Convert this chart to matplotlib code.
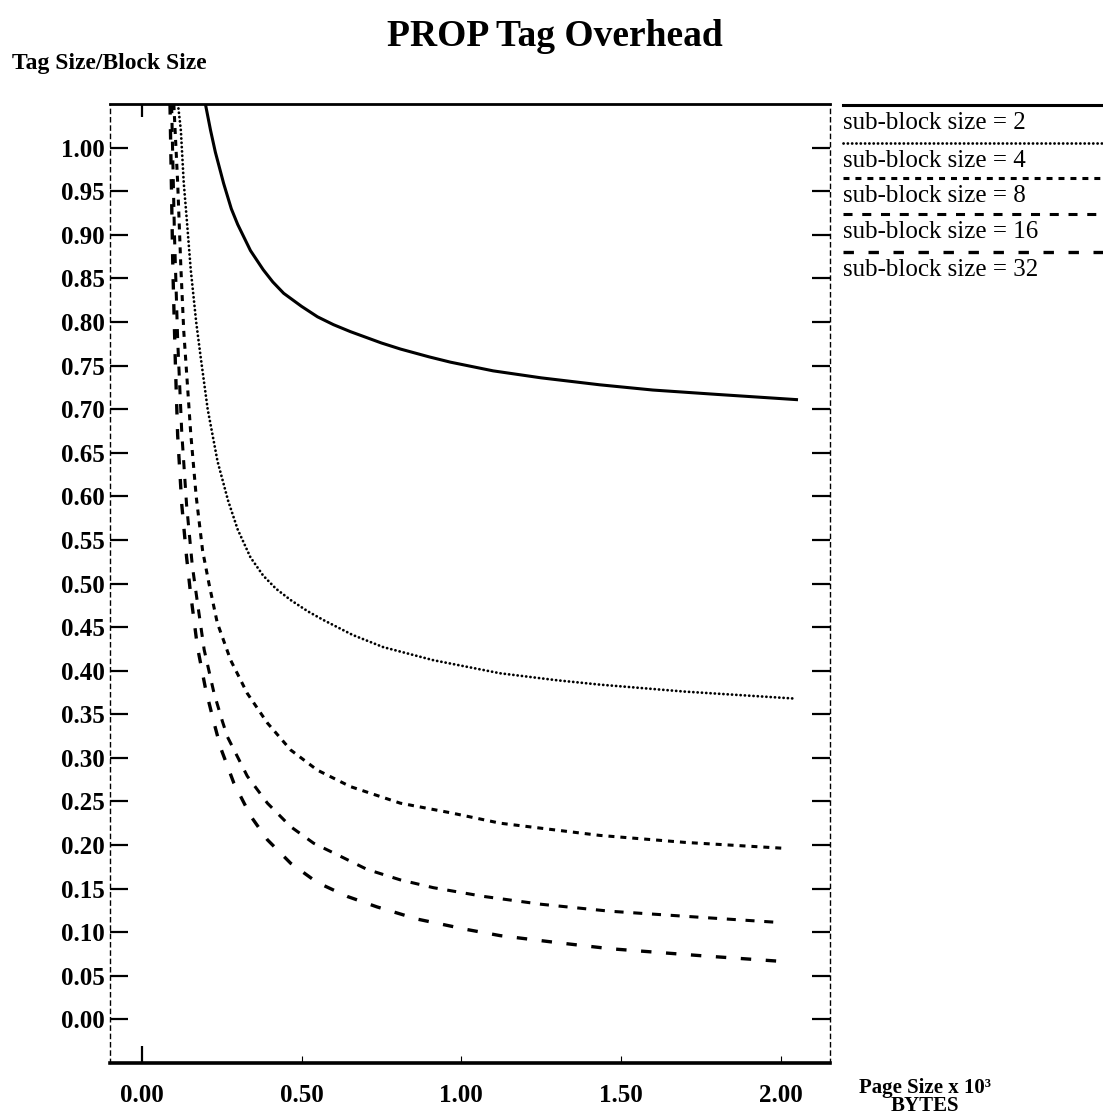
import numpy as np
import matplotlib
matplotlib.use("Agg")
import matplotlib.pyplot as plt

plt.rcParams['font.family'] = ['Liberation Serif', 'DejaVu Serif']
plt.rcParams['lines.scale_dashes'] = False

# page size (x 10^3 bytes) and tag size / block size
x_2 = [0.20, 0.215, 0.23, 0.256, 0.28, 0.30, 0.34, 0.38, 0.41, 0.444, 0.50, 0.55,
       0.60, 0.653, 0.75, 0.81, 0.90, 0.966, 1.10, 1.25, 1.434, 1.60, 1.80, 2.05]
y_2 = [1.048, 1.02, 0.995, 0.959, 0.93, 0.912, 0.882, 0.86, 0.846, 0.833, 0.818, 0.806,
       0.797, 0.789, 0.776, 0.769, 0.760, 0.754, 0.744, 0.736, 0.728, 0.722, 0.717, 0.711]

x_4 = [0.113, 0.122, 0.131, 0.14, 0.153, 0.17, 0.184, 0.206, 0.237, 0.27, 0.30,
       0.34, 0.38, 0.42, 0.466, 0.52, 0.569, 0.66, 0.756, 0.913, 1.122, 1.30, 1.434,
       1.70, 2.044]
y_4 = [1.05, 1.02, 0.96, 0.92, 0.86, 0.80, 0.76, 0.70, 0.64, 0.595, 0.562,
       0.530, 0.509, 0.494, 0.481, 0.468, 0.458, 0.441, 0.427, 0.412, 0.397, 0.389, 0.384,
       0.376, 0.368]

x_8 = [0.10, 0.112, 0.122, 0.131, 0.153, 0.17, 0.19, 0.21, 0.236, 0.278, 0.33,
       0.393, 0.466, 0.549, 0.653, 0.809, 0.966, 1.122, 1.30, 1.434, 1.70, 2.02]
y_8 = [1.05, 0.96, 0.863, 0.79, 0.672, 0.60, 0.538, 0.50, 0.455, 0.412, 0.374,
       0.34, 0.309, 0.286, 0.267, 0.248, 0.237, 0.225, 0.217, 0.211, 0.203, 0.196]

x_16 = [0.093, 0.102, 0.112, 0.125, 0.14, 0.158, 0.174, 0.195, 0.226, 0.252, 0.268,
        0.33, 0.393, 0.466, 0.538, 0.622, 0.705, 0.809, 0.913, 1.07, 1.25, 1.466, 1.75, 2.0]
y_16 = [1.05, 0.90, 0.78, 0.672, 0.59, 0.52, 0.478, 0.424, 0.374, 0.342, 0.324,
        0.279, 0.248, 0.221, 0.202, 0.187, 0.172, 0.160, 0.151, 0.141, 0.132, 0.124, 0.117, 0.111]

x_32 = [0.088, 0.097, 0.105, 0.112, 0.125, 0.14, 0.152, 0.174, 0.20, 0.226, 0.247,
        0.288, 0.341, 0.393, 0.466, 0.549, 0.643, 0.736, 0.862, 1.018, 1.122, 1.30,
        1.466, 1.75, 2.02]
y_32 = [1.05, 0.86, 0.75, 0.67, 0.59, 0.53, 0.49, 0.427, 0.378, 0.34, 0.311,
        0.271, 0.233, 0.206, 0.179, 0.157, 0.141, 0.129, 0.115, 0.103, 0.096, 0.088,
        0.081, 0.073, 0.066]

sub_blocks = [2, 4, 8, 16, 32]
y_ticks = [i * 0.05 for i in range(21)]
x_ticks = [0.0, 0.5, 1.0, 1.5, 2.0]

# line looks: solid, dotted, short / medium / long dashes
estilos = [
    dict(linestyle='-', linewidth=2.2),
    dict(linestyle=(0, (0.1, 3.0)), linewidth=2.0, dash_capstyle='round'),
    dict(linestyle=(0, (4.3, 4.3)), linewidth=2.2),
    dict(linestyle=(0, (6.5, 7.0)), linewidth=2.2),
    dict(linestyle=(0, (7.5, 10.5)), linewidth=2.4),
]

fig = plt.figure(figsize=(11.03, 11.2), dpi=100)
ax = fig.add_axes([0.0997, 0.051, 0.6528, 0.856])

series = [(x_2, y_2), (x_4, y_4), (x_8, y_8), (x_16, y_16), (x_32, y_32)]
for (xs, ys), st in zip(series, estilos):
    ax.plot(xs, ys, color='black', **st)

ax.set_xlim(-0.1, 2.155)
ax.set_ylim(-0.05, 1.05)

ax.spines['top'].set_linewidth(2.0)
ax.spines['bottom'].set_linewidth(2.6)
for lado in ['left', 'right']:
    ax.spines[lado].set_linewidth(1.0)
    ax.spines[lado].set_linestyle((0, (3, 3)))

ax.set_yticks(y_ticks)
ax.set_yticklabels(['%.2f' % v for v in y_ticks], fontsize=18, fontweight='bold')
ax.tick_params(axis='y', direction='in', length=13, width=1.6, pad=3.5,
               left=True, right=True, labelright=False)

ax.set_xticks(x_ticks)
ax.set_xticklabels(['%.2f' % v for v in x_ticks], fontsize=18, fontweight='bold')
ax.tick_params(axis='x', direction='in', length=12, width=1.6, pad=15,
               bottom=True, top=True)
for i, t in enumerate(ax.xaxis.get_major_ticks()):
    if i > 0:
        t.tick1line.set_markersize(5)
        t.tick1line.set_markeredgewidth(0.8)
        t.tick1line.set_color('#999999')
        t.tick2line.set_visible(False)
    else:
        t.tick2line.set_markersize(9)

# titles
fig.text(0.503, 1 - 37 / 1120, 'PROP Tag Overhead', fontsize=27,
         fontweight='bold', ha='center', va='center')
fig.text(12 / 1103, 1 - 63 / 1120, 'Tag Size/Block Size', fontsize=17,
         fontweight='bold', ha='left', va='center')
fig.text(925 / 1103, 1 - 1088 / 1120, 'Page Size x 10\u00b3', fontsize=15,
         fontweight='bold', ha='center', va='center')
fig.text(925 / 1103, 1 - 1106 / 1120, 'BYTES', fontsize=15,
         fontweight='bold', ha='center', va='center')

# legend: sample line above each text
lax = fig.add_axes([843 / 1103, 1 - 275 / 1120, 260 / 1103, 180 / 1120])
lax.set_xlim(0, 1)
lax.set_ylim(275, 95)
lax.axis('off')
y_lineas = [105, 143, 178, 214, 252]
for sb, st, yl in zip(sub_blocks, estilos, y_lineas):
    lax.plot([0, 1], [yl, yl], color='black', clip_on=False, **st)
    lax.text(0.0, yl + 18, 'sub-block size = %d' % sb, fontsize=18,
             ha='left', va='center')

fig.savefig('out.png', dpi=100)
